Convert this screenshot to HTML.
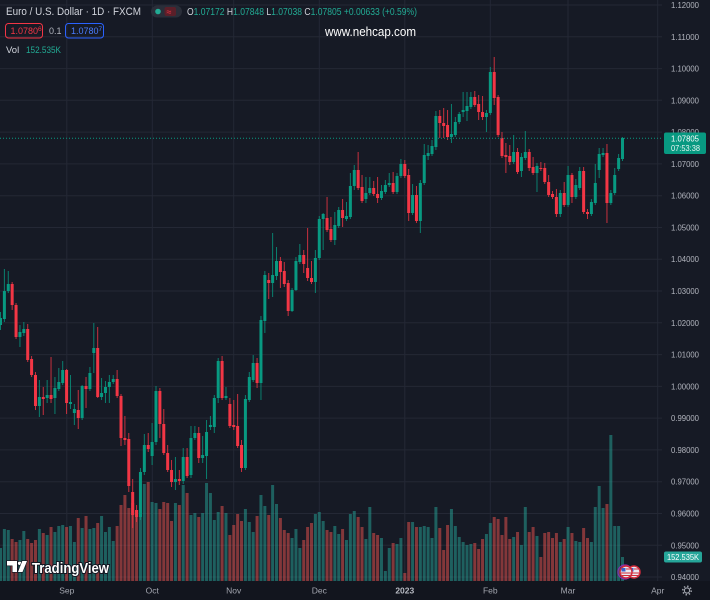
<!DOCTYPE html>
<html><head><meta charset="utf-8">
<style>
html,body{margin:0;padding:0;background:#161a25;overflow:hidden;}
svg{display:block;}
text{font-family:"Liberation Sans",sans-serif;}
</style></head>
<body>
<svg id="s" width="710" height="600" viewBox="0 0 710 600" xmlns="http://www.w3.org/2000/svg">
<rect width="710" height="600" fill="#161a25"/>
<rect y="581" width="710" height="19" fill="#12151e"/>
<g stroke="#242835" stroke-width="1">
<line x1="0" x2="662" y1="5" y2="5"/>
<line x1="0" x2="662" y1="36.8" y2="36.8"/>
<line x1="0" x2="662" y1="68.6" y2="68.6"/>
<line x1="0" x2="662" y1="100.3" y2="100.3"/>
<line x1="0" x2="662" y1="132.1" y2="132.1"/>
<line x1="0" x2="662" y1="163.9" y2="163.9"/>
<line x1="0" x2="662" y1="195.7" y2="195.7"/>
<line x1="0" x2="662" y1="227.5" y2="227.5"/>
<line x1="0" x2="662" y1="259.2" y2="259.2"/>
<line x1="0" x2="662" y1="291" y2="291"/>
<line x1="0" x2="662" y1="322.8" y2="322.8"/>
<line x1="0" x2="662" y1="354.6" y2="354.6"/>
<line x1="0" x2="662" y1="386.4" y2="386.4"/>
<line x1="0" x2="662" y1="418.1" y2="418.1"/>
<line x1="0" x2="662" y1="449.9" y2="449.9"/>
<line x1="0" x2="662" y1="481.7" y2="481.7"/>
<line x1="0" x2="662" y1="513.5" y2="513.5"/>
<line x1="0" x2="662" y1="545.3" y2="545.3"/>
<line x1="0" x2="662" y1="577" y2="577"/>
<line x1="66.8" x2="66.8" y1="0" y2="581"/>
<line x1="152.3" x2="152.3" y1="0" y2="581"/>
<line x1="233.7" x2="233.7" y1="0" y2="581"/>
<line x1="319.3" x2="319.3" y1="0" y2="581"/>
<line x1="404.8" x2="404.8" y1="0" y2="581"/>
<line x1="490.3" x2="490.3" y1="0" y2="581"/>
<line x1="568" x2="568" y1="0" y2="581"/>
<line x1="657.7" x2="657.7" y1="0" y2="581"/>
</g>
<g id="vol"></g>
<g id="candles"></g>
<line x1="0" x2="662" y1="138.3" y2="138.3" stroke="#089981" stroke-width="1" stroke-dasharray="1 2"/>

<!-- Legend -->
<text x="6" y="15" font-size="11" fill="#d1d4dc" textLength="135" lengthAdjust="spacingAndGlyphs">Euro / U.S. Dollar · 1D · FXCM</text>
<rect x="151" y="5.5" width="31" height="12" rx="6" fill="#2a2e39"/>
<circle cx="158" cy="11.5" r="2.8" fill="#22ab94"/>
<rect x="164.5" y="7" width="11.5" height="9" rx="2" fill="#5a1f29"/>
<text x="166.5" y="14.8" font-size="9" fill="#f23645">≈</text>
<text x="187" y="15" font-size="10" fill="#d1d4dc" textLength="230" lengthAdjust="spacingAndGlyphs">O<tspan fill="#22ab94">1.07172</tspan> H<tspan fill="#22ab94">1.07848</tspan> L<tspan fill="#22ab94">1.07038</tspan> C<tspan fill="#22ab94">1.07805 +0.00633 (+0.59%)</tspan></text>
<rect x="5.5" y="23.5" width="37" height="14.5" rx="3" fill="none" stroke="#f23645" stroke-width="1"/>
<text x="10.5" y="34" font-size="9" fill="#f23645">1.0780<tspan font-size="6.5" dy="-3">6</tspan></text>
<text x="49" y="34" font-size="9" fill="#b2b5be">0.1</text>
<rect x="65.5" y="23.5" width="38" height="14.5" rx="3" fill="none" stroke="#2962ff" stroke-width="1"/>
<text x="71" y="34" font-size="9" fill="#4a7dff">1.0780<tspan font-size="6.5" dy="-3">7</tspan></text>
<text x="325" y="36" font-size="12.5" fill="#ffffff" textLength="91" lengthAdjust="spacingAndGlyphs">www.nehcap.com</text>
<text x="6" y="53" font-size="9.5" fill="#d1d4dc">Vol</text>
<text x="26" y="53" font-size="9.5" fill="#22ab94" textLength="35" lengthAdjust="spacingAndGlyphs">152.535K</text>

<!-- Price axis -->
<g font-size="8.5" fill="#b2b5be">
<text x="671" y="8" textLength="28" lengthAdjust="spacingAndGlyphs">1.12000</text>
<text x="671" y="39.8" textLength="28" lengthAdjust="spacingAndGlyphs">1.11000</text>
<text x="671" y="71.6" textLength="28" lengthAdjust="spacingAndGlyphs">1.10000</text>
<text x="671" y="103.3" textLength="28" lengthAdjust="spacingAndGlyphs">1.09000</text>
<text x="671" y="135.1" textLength="28" lengthAdjust="spacingAndGlyphs">1.08000</text>
<text x="671" y="166.9" textLength="28" lengthAdjust="spacingAndGlyphs">1.07000</text>
<text x="671" y="198.7" textLength="28" lengthAdjust="spacingAndGlyphs">1.06000</text>
<text x="671" y="230.5" textLength="28" lengthAdjust="spacingAndGlyphs">1.05000</text>
<text x="671" y="262.2" textLength="28" lengthAdjust="spacingAndGlyphs">1.04000</text>
<text x="671" y="294" textLength="28" lengthAdjust="spacingAndGlyphs">1.03000</text>
<text x="671" y="325.8" textLength="28" lengthAdjust="spacingAndGlyphs">1.02000</text>
<text x="671" y="357.6" textLength="28" lengthAdjust="spacingAndGlyphs">1.01000</text>
<text x="671" y="389.4" textLength="28" lengthAdjust="spacingAndGlyphs">1.00000</text>
<text x="671" y="421.1" textLength="28" lengthAdjust="spacingAndGlyphs">0.99000</text>
<text x="671" y="452.9" textLength="28" lengthAdjust="spacingAndGlyphs">0.98000</text>
<text x="671" y="484.7" textLength="28" lengthAdjust="spacingAndGlyphs">0.97000</text>
<text x="671" y="516.5" textLength="28" lengthAdjust="spacingAndGlyphs">0.96000</text>
<text x="671" y="548.3" textLength="28" lengthAdjust="spacingAndGlyphs">0.95000</text>
<text x="671" y="580" textLength="28" lengthAdjust="spacingAndGlyphs">0.94000</text>
</g>
<rect x="664" y="132.5" width="42" height="21.5" rx="2" fill="#089981"/>
<text x="671" y="141.5" font-size="8.5" fill="#ffffff" textLength="28" lengthAdjust="spacingAndGlyphs">1.07805</text>
<text x="671" y="151" font-size="8.5" fill="#e8f5f2" textLength="29" lengthAdjust="spacingAndGlyphs">07:53:38</text>
<rect x="664" y="551.5" width="38" height="11" rx="2" fill="#26a69a"/>
<text x="667" y="560" font-size="8.5" fill="#ffffff" textLength="32" lengthAdjust="spacingAndGlyphs">152.535K</text>

<!-- Time axis -->
<g font-size="8.5" fill="#a3a6af" text-anchor="middle">
<text x="66.8" y="593.5">Sep</text>
<text x="152.3" y="593.5">Oct</text>
<text x="233.7" y="593.5">Nov</text>
<text x="319.3" y="593.5">Dec</text>
<text x="404.8" y="593.5" font-weight="bold" fill="#b8bbc3">2023</text>
<text x="490.3" y="593.5">Feb</text>
<text x="568" y="593.5">Mar</text>
<text x="657.7" y="593.5">Apr</text>
</g>
<circle cx="687" cy="590.5" r="2.6" fill="none" stroke="#a3a6af" stroke-width="1.1"/>
<circle cx="687" cy="590.5" r="4.2" fill="none" stroke="#a3a6af" stroke-width="1.6" stroke-dasharray="1.4 1.9"/>

<!-- Flags -->
<circle cx="625" cy="572" r="7" fill="none" stroke="#8e2bb0" stroke-width="1.2"/>
<g>
<circle cx="634" cy="572" r="6" fill="#e9e9f0" stroke="#d12a3a" stroke-width="1.5"/>
<rect x="629.5" y="568" width="4" height="3.5" fill="#3a5fc8"/>
<line x1="634" x2="639" y1="569" y2="569" stroke="#d12a3a" stroke-width="1"/>
<line x1="629" x2="639" y1="573" y2="573" stroke="#d12a3a" stroke-width="1"/>
<line x1="630" x2="638" y1="575.5" y2="575.5" stroke="#d12a3a" stroke-width="1"/>
</g>
<g>
<circle cx="626" cy="572" r="6" fill="#e9e9f0" stroke="#d12a3a" stroke-width="1.5"/>
<rect x="621.5" y="568" width="4" height="3.5" fill="#3a5fc8"/>
<line x1="626" x2="631" y1="569" y2="569" stroke="#d12a3a" stroke-width="1"/>
<line x1="621" x2="631" y1="573" y2="573" stroke="#d12a3a" stroke-width="1"/>
<line x1="622" x2="630" y1="575.5" y2="575.5" stroke="#d12a3a" stroke-width="1"/>
</g>

<!-- TradingView logo -->
<g fill="#ffffff" stroke="#131722" stroke-width="1.2" paint-order="stroke">
<path d="M7 561 H17 V572 H12.5 V565.5 H7 Z"/>
<circle cx="19.6" cy="563.3" r="1.7"/>
<path d="M22.3 561 H27 L22.5 572 H18 Z"/>
<text x="32" y="573" font-size="14.5" font-weight="bold" stroke-width="2" textLength="77" lengthAdjust="spacingAndGlyphs">TradingView</text>
</g>
</svg>
<script>
(function(){
var C=[[325,318,312,330],[319,291,269,322],[291,284,271,293],[284,305,282,310],[305,337,303,339],[337,332,325,347],[333,329,322,336],[329,360,324,362],[359,375,356,377],[375,406,372,410],
[406,397,380,417],[397,399,387,415],[398,395,380,403],[395,399,357,403],[398,388,377,414],[389,382,368,391],[383,370,361,385],[370,403,369,414],[404,402,375,409],[413,409,404,425],
[410,418,390,429],[418,386,385,420],[386,389,377,408],[389,373,367,391],[353,348,323,373],[348,397,327,398],[397,393,378,400],[393,387,381,403],[387,382,375,403],[382,379,375,384],
[379,396,370,398],[396,438,394,446],[438,440,416,445],[439,486,433,492],[492,515,479,528],[510,517,505,522],[517,472,468,520],[472,445,434,475],[445,449,433,452],[456,442,423,465],
[442,391,386,445],[391,424,388,438],[424,453,409,455],[453,470,445,472],[470,482,460,487],[482,479,457,490],[479,481,470,485],[481,457,448,484],[457,476,448,478],[475,438,426,478],
[438,433,426,440],[433,458,427,463],[458,455,436,463],[456,432,420,479],[427,425,416,430],[427,398,395,433],[398,361,358,403],[361,398,356,400],[398,396,387,400],[404,426,398,428],
[425,427,400,430],[426,446,394,448],[445,468,440,472],[468,399,395,470],[400,377,372,402],[380,363,355,382],[363,383,358,388],[383,320,316,400],[321,275,271,333],[280,283,273,299],
[283,275,233,297],[276,261,247,280],[261,272,257,288],[271,284,262,287],[283,311,280,316],[311,290,288,312],[290,261,257,291],[262,255,244,264],[255,264,250,273],[268,278,228,281],
[278,282,261,284],[282,258,250,293],[258,219,216,260],[219,214,213,250],[218,230,197,232],[229,240,217,242],[240,225,212,245],[226,210,207,228],[210,218,199,227],[219,216,202,221],
[217,186,173,219],[186,170,165,190],[170,188,152,190],[187,201,175,203],[199,193,177,203],[193,188,177,195],[188,194,181,196],[194,198,177,203],[198,191,185,200],[192,185,180,194],
[185,183,173,187],[183,192,172,194],[192,176,173,194],[176,164,159,178],[164,176,160,178],[175,213,169,221],[213,195,184,215],[195,221,186,223],[221,183,180,233],[183,155,144,185],
[156,153,145,160],[154,146,140,156],[147,116,111,150],[116,123,110,138],[123,126,108,138],[125,137,110,140],[137,134,104,143],[135,122,117,137],[122,114,112,124],[112,110,92,117],
[111,106,92,121],[107,97,92,109],[97,105,91,107],[104,112,95,120],[112,117,96,120],[117,113,110,132],[113,72,67,115],[72,98,57,105],[97,135,95,137],[138,156,132,158],
[155,157,143,173],[156,162,145,165],[162,152,135,164],[152,172,148,174],[171,157,153,177],[158,152,131,160],[152,168,149,171],[167,173,157,175],[173,166,163,192],[168,169,162,171],
[168,182,163,184],[182,195,175,197],[194,197,191,199],[197,214,189,217],[214,193,190,217],[193,205,182,207],[205,175,166,207],[175,197,173,203],[197,185,179,199],[188,171,167,190],
[171,212,167,214],[212,214,209,219],[214,202,199,216],[203,183,164,205],[170,154,148,178],[155,153,148,157],[153,203,144,223],[203,193,190,205],[193,175,168,195],[169,158,154,171],
[159,138,137,161]];
var V=("t548 t529 t530 r539 r542 t540 t531 r539 r543 r540 t529 r533 t535 r527 t532 t526 t525 r527 t526 t542 "+
"r518 t528 r516 t529 t528 r523 t516 t532 t527 t541 r526 r505 r495 r508 r503 r510 t510 t484 r482 t502 "+
"t503 r509 r502 r503 r521 t503 r505 t485 r493 t515 t513 r517 t513 t483 t493 t520 t512 r506 t513 r535 "+
"r525 r514 r521 t509 t522 t532 r516 t495 t506 r515 t485 t504 r518 r530 r533 t538 t529 t548 r540 r527 "+
"r523 t514 t512 t521 r530 "+
"r532 t526 t534 r529 t540 t514 t511 r517 r527 t539 t507 r533 r535 t538 t571 t548 r543 t544 t538 r573 "+
"r522 t522 r527 t527 t526 t527 t538 t507 r528 r550 r525 t509 t526 t537 t542 t545 t544 r543 r549 r539 "+
"t534 t523 r517 r519 r535 r517 r539 t537 r532 t545 t507 r532 r527 t536 r557 r533 r532 r538 r533 t542 "+
"r539 t527 r533 t541 t542 r528 r538 t542 t507 t486 t508 r504 t435 t526 t526 t557").split(" ");
var ns="http://www.w3.org/2000/svg";
var gv=document.getElementById("vol"),gc=document.getElementById("candles");
function r(g,x,y,w,h,f,o){var e=document.createElementNS(ns,"rect");e.setAttribute("x",x);e.setAttribute("y",y);e.setAttribute("width",w);e.setAttribute("height",h);e.setAttribute("fill",f);if(o)e.setAttribute("opacity",o);g.appendChild(e);}
for(var i=0;i<V.length;i++){var x=0.5+i*3.8875;var t=+V[i].slice(1);r(gv,x-1.5,t,3,581-t,V[i][0]=="t"?"rgba(38,166,154,0.5)":"rgba(239,83,80,0.5)");}
for(var j=0;j<C.length;j++){var x2=0.5+j*3.8875;var c=C[j];var o=c[0],cl=c[1],h=c[2],l=c[3];var col=cl<=o?"#089981":"#f23645";
r(gc,x2-0.5,h,1,Math.max(1,l-h),col,"0.8");r(gc,x2-1.5,Math.min(o,cl),3,Math.max(1,Math.abs(o-cl)),col);}
})();
</script>
</body></html>
